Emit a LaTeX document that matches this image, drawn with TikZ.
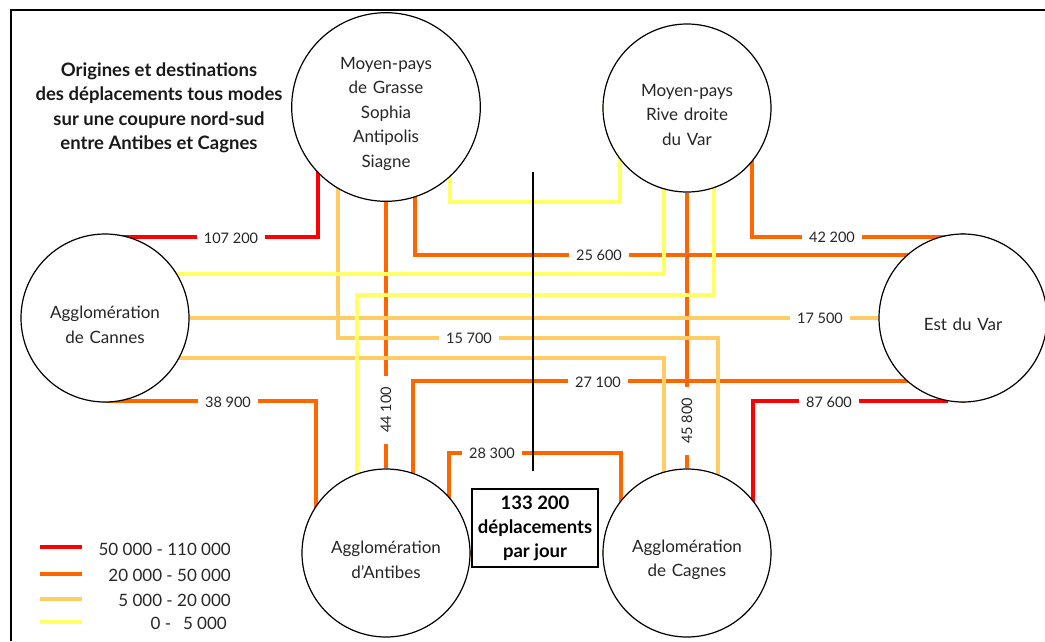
\documentclass[tikz,border=0pt]{standalone}
\usepackage{fontspec}
\setmainfont{Lato}
\usepackage{xcolor}
\usepackage{tikz}
\usetikzlibrary{backgrounds, calc}

\definecolor{flowred}{HTML}{FF0000}
\definecolor{floworange}{HTML}{FF6600}
\definecolor{flowlight}{HTML}{FFCC66}
\definecolor{flowyellow}{HTML}{FFFF66}

\begin{document}
\begin{tikzpicture}[
  x=1pt, y=-1pt,
  zone/.style={draw, circle, fill=white, line width=1.2pt, minimum size=168pt, inner sep=0pt, text width=140pt, align=center, execute at begin node={\rule{0pt}{26pt}}, text=black!85, font=\fontsize{17}{24.5}\selectfont},
  flowval/.style={fill=white, inner xsep=7pt, inner ysep=1pt, text=black!85, font=\fontsize{14.5}{16}\selectfont},
  vflowval/.style={flowval, rotate=90, inner xsep=11pt},
  redline/.style={line width=4pt, draw=flowred},
  orangeline/.style={line width=4pt, draw=floworange},
  lightline/.style={line width=4pt, draw=flowlight},
  yellowline/.style={line width=4pt, draw=flowyellow},
  totalbox/.style={draw, line width=2pt, minimum width=126pt, minimum height=78pt, inner sep=1pt, align=center, font=\bfseries\fontsize{18.5}{24}\selectfont},
  legendtext/.style={anchor=east, inner sep=0pt, text=black!85, font=\fontsize{17}{20}\selectfont}
]
\useasboundingbox (0,0) rectangle (1045,641);

% zones
\node[zone] (grasse) at (386,107) {Moyen-pays\\de Grasse\\Sophia\\Antipolis\\Siagne};
\node[zone] (rive) at (687,108) {Moyen-pays\\Rive droite\\du Var};
\node[zone] (cannes) at (105,318) {Agglomération\\de Cannes};
\node[zone] (estvar) at (963,318) {Est du Var};
\node[zone] (antibes) at (386,553) {Agglomération\\d'Antibes};
\node[zone] (cagnes) at (687,553) {Agglomération\\de Cagnes};

% flows
\begin{scope}[on background layer]
\draw[redline] (cannes) |- (318,237) |- (grasse);
\draw[redline] (estvar.260 |- 753,401) -- (753,401) |- (cagnes);
\draw[orangeline] (cannes) |- (316,401) |- (antibes);
\draw[orangeline] (grasse) -- (antibes);
\draw[orangeline] (grasse) -| (415,255) -| (estvar);
\draw[orangeline] (rive) -| (752,237) -| (estvar);
\draw[orangeline] (rive) -- (cagnes);
\draw[orangeline] (antibes) -| (413,381) -| (estvar);
\draw[orangeline] (antibes) -| (449,453) -- (621,453) |- (cagnes);
\draw[lightline] (cannes) -- (estvar);
\draw[lightline] (grasse) -| (338,338) -- (718,338) |- (cagnes);
\draw[lightline] (cannes) |- (664,358) |- (cagnes);
\draw[yellowline] (grasse) -| (450,202) -- (620,202) |- (rive);
\draw[yellowline] (cannes) |- (664,274) |- (rive);
\draw[yellowline] (antibes) -| (357,295) -- (714,295) |- (rive);
\end{scope}

% values
\node[flowval] (v107) at (231,238) {107 200};
\node[flowval] (v876) at (829,402) {87 600};
\node[flowval] (v389) at (228,402) {38 900};
\node[vflowval] (v441) at (386,410) {44 100};
\node[flowval] (v256) at (599,255) {25 600};
\node[flowval] (v422) at (832,237) {42 200};
\node[vflowval] (v458) at (687,421) {45 800};
\node[flowval] (v271) at (598,382) {27 100};
\node[flowval] (v283) at (492,453) {28 300};
\node[flowval] (v175) at (820,318) {17 500};
\node[flowval] (v157) at (469,338) {15 700};

% cut
\node[totalbox] (total) at (535,528) {133 200\\déplacements\\par jour};
\draw[line width=2pt] ([shift={(-2,-17)}]total.north) -- ++(0,-299);

\node[align=center, text=black!90, font=\bfseries\fontsize{18.5}{24.5}\selectfont] (title) at (159,108) {Origines et destinations\\des déplacements tous modes\\sur une coupure nord-sud\\entre Antibes et Cagnes};

% legend
\draw[redline] (40,547) -- (82,547);
\draw[orangeline] (40,574) -- (82,574);
\draw[lightline] (40,599) -- (82,599);
\draw[yellowline] (40,622) -- (82,622);
\node[legendtext] (leg1) at (231,549) {50 000 - 110 000};
\node[legendtext] (leg2) at (231,575) {20 000 - 50 000};
\node[legendtext] (leg3) at (231,600) {5 000 - 20 000};
\node[legendtext] (leg4) at (227,623) {0 -\hspace{0.7em}5 000};

% frame
\draw[line width=2pt] (11,641) |- (1045,10);
\end{tikzpicture}
\end{document}
